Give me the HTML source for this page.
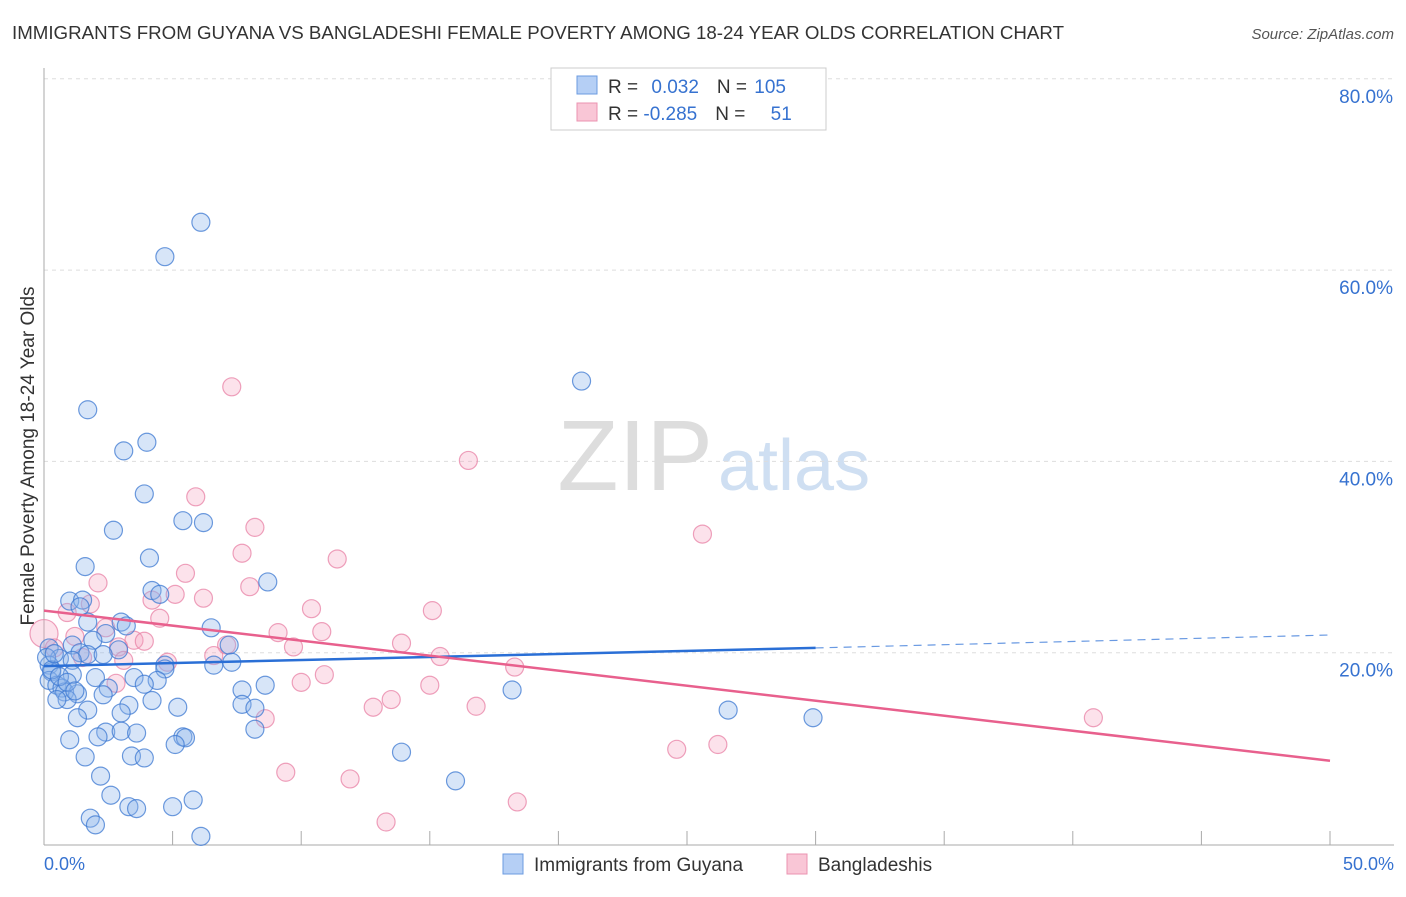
<!DOCTYPE html>
<html><head><meta charset="utf-8"><style>
body{margin:0;background:#fff;font-family:"Liberation Sans",sans-serif}
svg text{font-family:"Liberation Sans",sans-serif}
</style></head><body>
<svg width="1406" height="892" xmlns="http://www.w3.org/2000/svg" id="chart">
<text x="12" y="39" font-size="18" fill="#333" textLength="1052" lengthAdjust="spacingAndGlyphs">IMMIGRANTS FROM GUYANA VS BANGLADESHI FEMALE POVERTY AMONG 18-24 YEAR OLDS CORRELATION CHART</text>
<text x="1394" y="39" font-size="15" fill="#555" text-anchor="end" font-style="italic">Source: ZipAtlas.com</text>
<text x="713" y="490" font-size="100" fill="#ddd" text-anchor="end" font-family="Liberation Serif">ZIP</text>
<text x="718" y="490" font-size="72" fill="#cfdff2">atlas</text>
<text x="34" y="456" font-size="19" fill="#333" text-anchor="middle" transform="rotate(-90 34 456)">Female Poverty Among 18-24 Year Olds</text>
<g id="grid"></g><g id="pts"></g><g id="trend"></g>
<g>
<rect x="551" y="68" width="275" height="62" fill="#fff" stroke="#ccc"/>
<rect x="577" y="76" width="20" height="18" fill="#b5cff5" stroke="#6b9be0"/>
<rect x="577" y="103" width="20" height="18" fill="#f9c6d6" stroke="#eb93b0"/>
<text x="608" y="93" font-size="19" fill="#333">R = <tspan fill="#3672d0" dx="8">0.032</tspan><tspan dx="18">N = </tspan><tspan fill="#3672d0" dx="2">105</tspan></text>
<text x="608" y="120" font-size="19" fill="#333">R = <tspan fill="#3672d0">-0.285</tspan><tspan dx="18">N = </tspan><tspan fill="#3672d0" dx="20">51</tspan></text>
</g>
<g>
<rect x="503" y="854" width="20" height="20" fill="#b5cff5" stroke="#6b9be0"/>
<text x="534" y="871" font-size="19" fill="#333">Immigrants from Guyana</text>
<rect x="787" y="854" width="20" height="20" fill="#f9c6d6" stroke="#eb93b0"/>
<text x="818" y="871" font-size="19" fill="#333">Bangladeshis</text>
</g>
</svg>
<script>
const yTicks=[20,40,60,80];
const yTickLabels=["20.0%","40.0%","60.0%","80.0%"];
const xLabels=["0.0%","50.0%"];
const blueX=[6.1,4.7,20.9,1.7,4.0,3.1,3.9,5.4,6.2,2.7,4.1,1.6,8.7,4.2,4.5,1.0,1.5,1.4,3.0,1.7,3.2,6.5,2.4,1.9,7.2,1.1,2.9,0.2,1.4,1.7,2.3,0.6,1.1,7.3,4.7,0.2,6.6,4.7,0.3,1.1,2.0,3.5,4.4,0.2,0.5,0.7,2.5,3.9,8.6,7.7,0.8,1.3,2.3,18.2,0.9,0.5,4.2,3.3,7.7,8.2,5.2,1.7,26.6,3.0,1.3,29.9,8.2,2.4,3.0,3.6,2.1,5.4,1.0,5.5,5.1,13.9,3.4,3.9,1.6,2.2,16.0,5.8,2.6,3.3,3.6,5.0,1.8,2.0,6.1,0.1,0.3,0.6,0.9,0.4,1.2];
const blueY=[65.0,61.4,48.4,45.4,42.0,41.1,36.6,33.8,33.6,32.8,29.9,29.0,27.4,26.5,26.1,25.4,25.5,24.8,23.2,23.2,22.8,22.6,22.0,21.3,20.8,20.8,20.3,20.5,20.0,19.8,19.8,19.4,19.2,19.0,18.7,18.7,18.7,18.3,18.0,17.7,17.4,17.4,17.1,17.1,16.6,16.3,16.3,16.7,16.6,16.1,15.9,15.7,15.6,16.1,15.1,15.1,15.0,14.5,14.6,14.2,14.3,14.0,14.0,13.7,13.2,13.2,12.0,11.7,11.8,11.6,11.2,11.2,10.9,11.1,10.4,9.6,9.2,9.0,9.1,7.1,6.6,4.6,5.1,3.9,3.7,3.9,2.7,2.0,0.8,19.5,18.2,17.5,16.9,19.9,16.0];
const pinkX=[7.3,16.5,5.9,25.6,8.2,7.7,11.4,5.5,2.1,8.0,5.1,6.2,4.2,1.8,10.4,15.1,0.9,4.5,2.4,9.1,10.8,0.0,1.2,3.5,3.9,7.1,13.9,9.7,2.9,6.6,15.4,4.8,3.1,18.3,10.9,10.0,2.8,15.0,13.5,12.8,16.8,40.8,8.6,26.2,24.6,9.4,11.9,18.4,13.3,0.4,1.5];
const pinkY=[47.8,40.1,36.3,32.4,33.1,30.4,29.8,28.3,27.3,26.9,26.1,25.7,25.5,25.1,24.6,24.4,24.2,23.6,22.6,22.1,22.2,22.0,21.7,21.3,21.2,20.8,21.0,20.6,20.6,19.7,19.6,19.0,19.2,18.5,17.7,16.9,16.8,16.6,15.1,14.3,14.4,13.2,13.1,10.4,9.9,7.5,6.8,4.4,2.3,20.5,19.5];
const blueTrend=[18.6,20.5,21.85];
const pinkTrend=[24.4,8.7];
const X=v=>44+v/50*1286, Y=v=>844-v/20*191.3;
const ns="http://www.w3.org/2000/svg";
function mk(t,a,p){const e=document.createElementNS(ns,t);for(const k in a)e.setAttribute(k,a[k]);p.appendChild(e);return e;}
const g=document.getElementById('grid');
yTicks.forEach((t,i)=>{
 const l=mk('line',{x1:44,x2:1394,y1:Y(t),y2:Y(t),stroke:'#ddd','stroke-dasharray':'4,4'},g);
 
 
 const tx=mk('text',{x:1393,y:Y(t)+24,'font-size':19,fill:'#3672d0','text-anchor':'end'},g);tx.textContent=yTickLabels[i];
 
 
});
mk('line',{x1:44,x2:44,y1:68,y2:845,stroke:'#aaa'},g);
mk('line',{x1:44,x2:1394,y1:845,y2:845,stroke:'#aaa'},g);
for(let i=1;i<=10;i++){const x=X(i*5);const t=mk('line',{x1:x,x2:x,y1:831,y2:845,stroke:'#aaa'},g);
 
 }
const xl0=mk('text',{x:44,y:870,'font-size':18,fill:'#3672d0'},g);xl0.textContent=xLabels[0];


const xl1=mk('text',{x:1394,y:870,'font-size':18,fill:'#3672d0','text-anchor':'end'},g);xl1.textContent=xLabels[1];


const p=document.getElementById('pts');
pinkX.forEach((v,i)=>{const c=mk('circle',{cx:X(v),cy:Y(pinkY[i]),r:i==21?14:9,fill:'rgba(245,160,188,0.3)',stroke:'rgba(232,130,165,0.75)','stroke-width':1.2},p);
 
 });
blueX.forEach((v,i)=>{const c=mk('circle',{cx:X(v),cy:Y(blueY[i]),r:9,fill:'rgba(140,180,235,0.35)',stroke:'rgba(60,120,210,0.75)','stroke-width':1.2},p);
 
 });
const tr=document.getElementById('trend');
const b1=mk('line',{x1:X(0),y1:Y(blueTrend[0]),x2:X(30),y2:Y(blueTrend[1]),stroke:'#2a6fd6','stroke-width':2.5},tr);


const b2=mk('line',{x1:X(30),y1:Y(blueTrend[1]),x2:X(50),y2:Y(blueTrend[2]),stroke:'#2a6fd6','stroke-width':1.2,'stroke-dasharray':'8,6',opacity:0.7},tr);


const p1=mk('line',{x1:X(0),y1:Y(pinkTrend[0]),x2:X(50),y2:Y(pinkTrend[1]),stroke:'#e8608d','stroke-width':2.5},tr);


</script>
</body></html>
